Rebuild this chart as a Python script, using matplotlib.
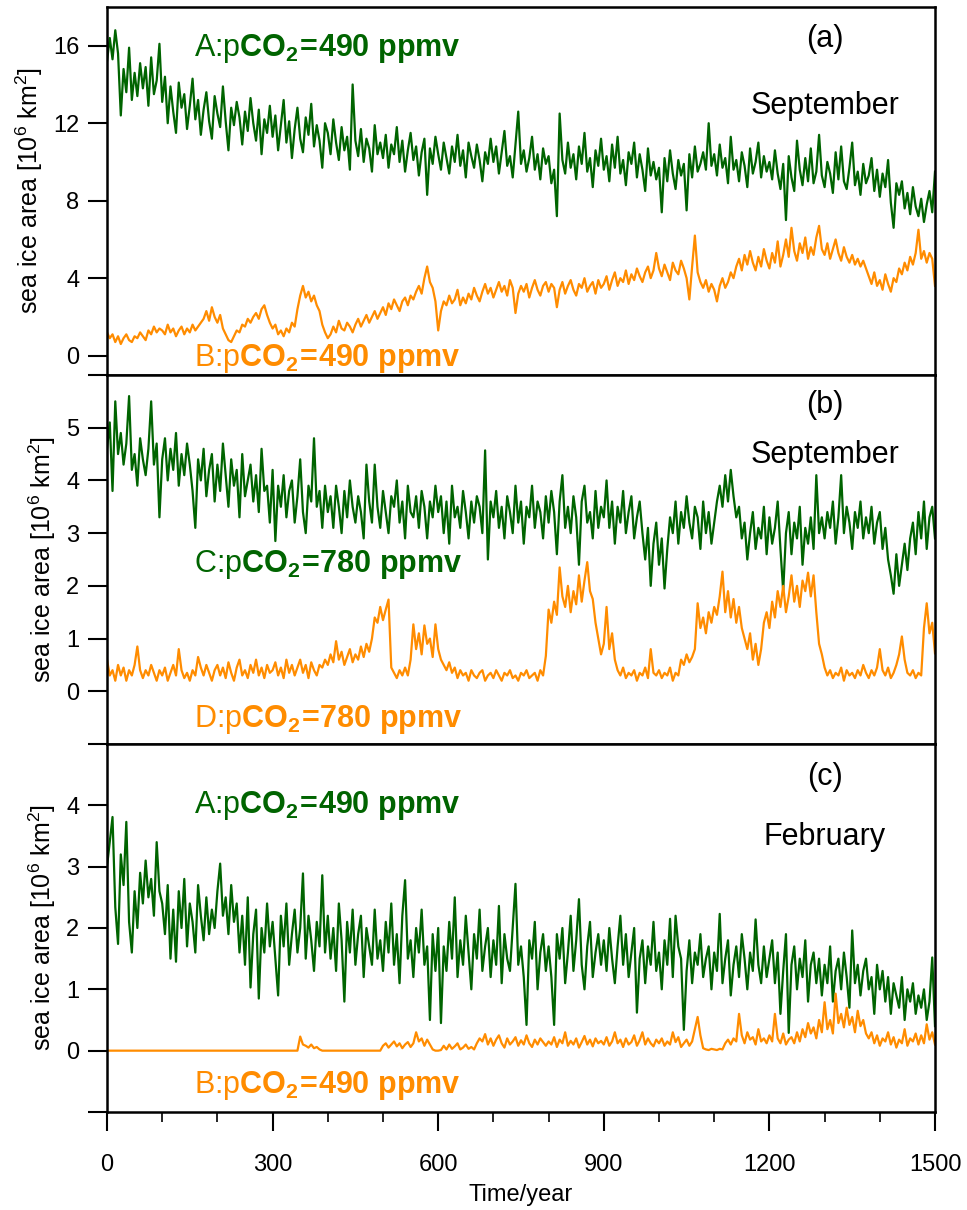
import numpy as np
import matplotlib
matplotlib.use('Agg')
import matplotlib.pyplot as plt
from matplotlib.ticker import MultipleLocator

plt.rcParams['font.family'] = ['Liberation Sans', 'DejaVu Sans']
plt.rcParams['mathtext.fontset'] = 'custom'
plt.rcParams['mathtext.rm'] = 'Liberation Sans'
plt.rcParams['mathtext.it'] = 'Liberation Sans:italic'
plt.rcParams['mathtext.bf'] = 'Liberation Sans:bold'

# model years, one value every 5 years
years = np.arange(0, 1501, 5)

# (a) September, run A and run B
sep_A = [15.2, 16.4, 15.3, 16.8, 15.6, 12.4, 14.8, 13.6, 15.9, 13.2, 14.6, 13.4, 15.1, 13.8, 14.9, 12.9, 15.4, 13.5, 14.2, 16.1,
         13.1, 14.4, 12.0, 13.9, 12.6, 11.5, 14.1, 12.8, 13.5, 11.7, 12.9, 14.3, 12.2, 13.2, 11.4, 12.7, 13.6, 12.1, 11.2, 13.4,
         12.5, 11.8, 13.9, 12.1, 10.6, 12.8, 11.9, 13.1, 12.3, 10.9, 12.6, 11.6, 13.3, 12.0, 11.1, 12.7, 10.4, 12.2, 11.5, 12.9,
         11.3, 12.4, 10.6, 11.9, 13.2, 11.0, 12.1, 10.2, 11.7, 12.8, 11.2, 10.5, 12.3, 11.4, 13.0, 10.8, 11.9, 11.1, 9.7, 12.0,
         11.5, 10.4, 12.2, 11.0, 10.1, 11.8, 10.6, 11.3, 9.6, 14.0, 11.1, 10.3, 11.7, 10.0, 11.2, 10.7, 9.5, 11.9, 10.4, 11.0,
         10.2, 11.4, 9.7, 10.9, 10.4, 11.8, 10.0, 11.1, 9.5, 10.6, 11.5, 10.1, 10.8, 9.3, 10.5, 11.2, 8.3, 10.7, 9.9, 11.3,
         10.4, 9.6, 11.0, 10.2, 9.4, 10.8, 10.0, 11.4, 9.8, 10.6, 9.2, 11.0, 10.3, 9.7, 10.9, 10.1, 9.0, 10.5, 9.9, 11.2,
         10.0, 10.8, 9.4, 10.5, 11.6, 9.8, 10.3, 9.2, 10.9, 12.6, 9.9, 10.6, 9.5, 10.2, 11.3, 9.6, 10.4, 9.1, 10.7, 9.9,
         10.3, 8.9, 9.6, 7.2, 12.5, 10.1, 9.4, 11.0, 9.7, 10.4, 9.1, 10.8, 9.9, 11.5, 9.5, 10.2, 8.7, 10.6, 9.8, 11.2,
         9.6, 10.3, 9.0, 10.9, 9.7, 11.3, 9.4, 10.1, 8.8, 10.5, 9.9, 11.0, 9.2, 10.4, 9.6, 8.5, 10.7, 9.3, 10.0, 9.1,
         9.7, 7.4, 10.2, 9.0, 10.6, 9.4, 8.6, 10.1, 9.3, 9.9, 7.5, 10.4, 9.2, 10.8, 9.5, 9.9, 10.5, 9.6, 12.0, 9.8,
         10.4, 9.3, 10.9, 9.7, 10.2, 8.9, 11.3, 9.6, 10.1, 9.0, 10.5, 9.8, 8.7, 10.7, 9.4, 10.0, 11.0, 9.2, 10.3, 9.5,
         10.0, 9.1, 10.6, 9.4, 8.6, 9.9, 7.0, 10.3, 9.2, 8.5, 11.1, 9.6, 8.8, 10.2, 9.0, 10.7, 8.9, 9.5, 11.4, 9.3,
         8.7, 10.0, 9.4, 8.4, 10.5, 9.1, 10.8, 9.0, 8.6, 9.7, 11.0, 8.8, 9.5, 8.3, 9.9, 8.9, 9.3, 10.2, 8.5, 9.6,
         8.2, 9.4, 8.7, 10.1, 7.9, 6.6, 8.9, 8.3, 9.0, 7.6, 8.4, 7.3, 8.7, 7.7, 7.2, 8.1, 6.9, 7.8, 8.5, 7.4,
         9.5]
sep_B = [1.2, 0.9, 1.1, 0.7, 1.0, 0.6, 0.9, 1.1, 0.8, 0.7, 1.0, 0.9, 1.2, 1.0, 0.8, 1.3, 1.1, 1.5, 1.2, 1.4,
         1.3, 1.1, 1.6, 1.2, 1.4, 1.0, 1.3, 1.5, 1.1, 1.4, 1.2, 1.6, 1.3, 1.5, 1.7, 1.9, 2.3, 1.8, 2.5, 2.0,
         1.7, 2.1, 1.4, 1.1, 0.8, 0.7, 1.0, 1.3, 1.2, 1.6, 1.5, 1.9, 1.7, 2.0, 2.2, 1.9, 2.4, 2.6, 2.1, 1.7,
         1.4, 1.6, 1.1, 1.3, 1.0, 1.4, 1.2, 1.7, 1.5, 2.4, 3.1, 3.6, 3.0, 3.3, 2.8, 3.1, 2.6, 2.3, 1.6, 1.2,
         0.9, 1.1, 1.5, 1.2, 1.8, 1.4, 1.3, 1.7, 1.5, 1.2, 1.6, 1.9, 1.5, 1.8, 2.1, 1.7, 2.0, 2.3, 1.9, 2.2,
         2.5, 2.1, 2.7, 2.4, 2.9, 2.6, 2.3, 2.8, 3.0, 2.6, 3.1, 2.9, 3.3, 3.6, 3.2, 4.0, 4.6, 3.8, 3.5, 2.8,
         1.3, 2.3, 2.8, 2.6, 3.1, 2.7, 2.9, 3.4, 2.6, 3.0, 2.7, 3.2, 2.9, 3.5, 3.1, 2.8, 3.3, 3.7, 3.2, 3.5,
         3.0, 3.4, 3.8, 3.3, 3.6, 3.1, 3.9, 3.5, 2.2, 3.2, 3.6, 3.3, 3.7, 3.0, 3.5, 3.9, 3.4, 3.1, 3.6, 3.8,
         3.3, 3.7, 3.5, 2.5, 3.4, 3.8, 3.2, 3.6, 3.9, 3.4, 3.1, 3.7, 3.5, 4.0, 3.3, 3.6, 3.8, 3.2, 3.9, 3.5,
         3.7, 4.1, 3.4, 3.9, 4.3, 3.6, 4.0, 3.8, 4.4, 3.7, 4.2, 3.9, 4.5, 4.1, 3.8, 4.3, 4.6, 4.0, 4.4, 5.3,
         4.5, 4.1, 4.7, 4.3, 3.9, 4.8, 4.4, 4.2, 4.9, 4.5, 4.0, 2.9, 4.6, 6.2, 4.3, 3.8, 3.5, 3.9, 3.3, 3.7,
         3.4, 2.8, 3.6, 4.0, 3.5, 3.8, 4.3, 4.0, 4.6, 5.0, 4.4, 5.2, 4.7, 5.4, 4.8, 4.4, 5.1, 4.6, 5.5, 4.9,
         4.5, 5.3, 4.8, 5.9, 4.6, 5.2, 6.0, 5.1, 6.6, 5.4, 4.9, 5.8, 5.3, 6.1, 5.0, 5.6, 5.2, 6.1, 6.7, 5.5,
         5.2, 5.8, 5.0, 5.5, 6.0, 5.3, 4.9, 5.6, 5.1, 4.8, 5.2, 4.7, 5.0, 4.6, 4.9, 4.5, 4.1, 3.7, 4.3, 3.6,
         3.9, 3.4, 4.2, 3.7, 3.3, 4.0, 3.8, 4.5, 4.2, 4.8, 4.4, 5.1, 4.7, 5.3, 6.5, 5.0, 5.4, 4.8, 5.3, 5.0,
         3.6]

# (b) September, run C and run D
sep_C = [4.6, 5.1, 3.8, 5.5, 4.5, 4.9, 4.3, 4.7, 5.6, 4.2, 4.5, 3.9, 4.8, 4.4, 4.1, 4.6, 5.5, 4.3, 4.7, 3.3,
         4.4, 4.8, 4.0, 4.6, 4.2, 4.9, 3.9, 4.5, 4.1, 4.7, 4.3, 3.8, 3.1, 4.4, 4.0, 4.6, 3.7, 4.2, 4.5, 3.6,
         4.3, 3.8, 4.7, 4.1, 3.5, 4.4, 3.9, 4.2, 3.3, 4.5, 3.7, 4.0, 4.3, 3.6, 4.1, 3.4, 4.6, 3.8, 3.9, 3.2,
         4.2, 2.85, 3.9, 3.5, 4.1, 3.3, 3.8, 4.0, 3.2, 3.7, 4.4, 3.4, 3.0, 3.9, 3.6, 4.8, 3.5, 3.8, 3.1, 3.9,
         3.4, 3.7, 3.1, 3.9, 3.5, 3.0, 3.8, 3.3, 4.0, 3.5, 3.2, 3.7, 3.4, 2.9, 4.3, 3.6, 3.2, 4.3, 3.5, 3.1,
         3.8, 3.4, 3.0, 3.7, 3.5, 4.0, 3.2, 3.6, 2.9, 3.9, 3.4, 3.3, 3.7, 3.1, 3.8, 3.5, 2.9, 3.6, 3.3, 3.9,
         3.4, 3.7, 3.0, 3.6, 2.8, 3.9, 3.3, 3.5, 3.1, 3.8, 3.4, 2.9, 3.6, 3.2, 3.7, 3.5, 3.0, 4.57, 2.5, 3.6,
         3.3, 3.8, 3.1, 3.5, 2.9, 3.7, 3.4, 3.0, 3.9, 3.2, 3.6, 2.8, 3.5, 3.3, 3.9, 3.1, 3.6, 3.4, 2.9, 3.7,
         3.2, 3.8, 3.4, 2.6, 3.6, 4.1, 3.1, 3.5, 3.0, 3.7, 3.3, 2.4, 3.6, 3.9, 3.2, 3.4, 2.9, 3.8, 3.1, 3.5,
         3.3, 4.0, 3.1, 3.6, 2.8, 3.5, 3.2, 3.8, 3.0, 3.4, 3.7, 2.9, 3.3, 3.6, 3.0, 2.5, 3.1, 2.0, 2.8, 3.2,
         2.4, 2.9, 1.95, 2.7, 3.3, 3.0, 3.6, 2.8, 3.4, 3.1, 3.7, 3.2, 2.9, 3.5, 3.3, 2.7, 3.6, 3.0, 3.4, 2.8,
         3.2, 3.6, 3.9, 3.5, 4.1, 3.6, 4.2, 3.7, 3.3, 3.5, 2.9, 3.2, 2.5, 3.0, 3.4, 2.7, 3.1, 2.9, 3.5, 2.6,
         3.3, 2.8, 3.1, 3.6, 2.7, 1.9, 3.0, 3.4, 2.6, 3.2, 2.9, 3.5, 2.4, 3.1, 2.8, 3.3, 2.7, 4.1, 3.0, 3.3,
         2.9, 3.4, 3.1, 3.6, 2.8, 3.3, 4.1, 3.0, 3.5, 3.2, 2.7, 3.4, 3.1, 3.6, 2.9, 3.3, 3.0, 3.5, 2.8, 3.2,
         3.4, 2.7, 3.1, 2.5, 2.2, 1.85, 2.6, 2.0, 2.4, 2.8, 2.3, 2.9, 3.2, 2.6, 3.4, 2.9, 3.6, 2.7, 3.3, 3.5,
         2.9]
sep_D = [0.6, 0.3, 0.4, 0.2, 0.5, 0.3, 0.45, 0.2, 0.4, 0.3, 0.5, 0.85, 0.4, 0.25, 0.4, 0.3, 0.5, 0.35, 0.2, 0.4,
         0.3, 0.45, 0.2, 0.35, 0.5, 0.3, 0.8, 0.4, 0.25, 0.35, 0.2, 0.4, 0.3, 0.65, 0.45, 0.3, 0.5, 0.35, 0.2, 0.4,
         0.5, 0.3, 0.45, 0.25, 0.55, 0.35, 0.2, 0.45, 0.6, 0.3, 0.4, 0.25, 0.5, 0.35, 0.6, 0.3, 0.45, 0.25, 0.5, 0.35,
         0.4, 0.55, 0.3, 0.45, 0.25, 0.6, 0.35, 0.5, 0.3, 0.45, 0.6, 0.35, 0.5, 0.25, 0.55, 0.4, 0.3, 0.5, 0.45, 0.6,
         0.5, 0.7, 0.55, 0.95, 0.6, 0.75, 0.5, 0.65, 0.8, 0.55, 0.7, 0.6, 0.85, 0.65, 0.9, 0.75, 1.0, 1.4, 1.3, 1.6,
         1.35, 1.55, 1.74, 0.45, 0.35, 0.25, 0.4, 0.3, 0.45, 0.3, 0.6, 1.27, 0.8, 1.1, 0.7, 1.25, 0.9, 1.0, 0.65, 1.27,
         0.8, 0.6, 0.5, 0.4, 0.55, 0.35, 0.45, 0.25, 0.4, 0.3, 0.35, 0.2, 0.4, 0.3, 0.25, 0.35, 0.4, 0.2, 0.3, 0.35,
         0.25, 0.4, 0.3, 0.2, 0.35, 0.3, 0.4, 0.25, 0.3, 0.2, 0.35, 0.3, 0.4, 0.25, 0.3, 0.35, 0.2, 0.4, 0.3, 0.67,
         1.55, 1.3, 1.7, 1.45, 2.35, 1.8, 1.6, 2.0, 1.5, 1.9, 1.65, 2.2, 1.7, 2.1, 2.45, 1.9, 1.75, 1.3, 1.0, 0.7,
         0.9, 1.6, 0.8, 1.1, 0.6, 0.4, 0.3, 0.45, 0.25, 0.35, 0.3, 0.4, 0.2, 0.35, 0.3, 0.45, 0.25, 0.8, 0.35, 0.3,
         0.4, 0.25, 0.35, 0.3, 0.45, 0.2, 0.35, 0.3, 0.6, 0.5, 0.7, 0.55, 0.65, 0.8, 1.67, 1.2, 1.4, 1.1, 1.5, 1.3,
         1.6, 1.45, 1.8, 2.27, 1.5, 1.9, 1.4, 1.75, 1.3, 1.6, 1.2, 1.0, 0.8, 1.1, 0.6, 0.9, 0.5, 0.8, 1.3, 1.5,
         1.2, 1.7, 1.4, 1.9, 1.6, 2.0, 1.5, 1.8, 2.2, 1.7, 2.0, 1.6, 2.1, 1.9, 2.25, 1.8, 2.2, 1.5, 0.9, 0.7,
         0.45, 0.3, 0.4, 0.25, 0.35, 0.3, 0.45, 0.2, 0.4, 0.3, 0.35, 0.25, 0.4, 0.3, 0.5, 0.35, 0.25, 0.4, 0.3, 0.45,
         0.8, 0.4, 0.3, 0.45, 0.25, 0.35, 0.5, 0.7, 1.04, 0.6, 0.35, 0.3, 0.4, 0.25, 0.35, 0.3, 1.2, 1.67, 1.1, 1.3,
         0.72]

# (c) February, run A and run B
feb_A = [3.0, 3.4, 3.81, 2.34, 1.74, 3.2, 2.7, 3.73, 2.1, 1.6, 2.6, 2.0, 2.9, 2.4, 3.1, 2.5, 2.8, 2.2, 3.4, 2.6,
         2.4, 1.9, 2.7, 1.5, 2.3, 1.45, 2.6, 2.0, 2.8, 1.7, 2.4, 2.1, 1.6, 2.7, 2.2, 1.8, 2.5, 1.9, 2.3, 2.0,
         2.6, 3.05, 2.2, 2.5, 1.9, 2.7, 2.1, 2.4, 1.6, 2.2, 1.4, 2.5, 1.03, 1.9, 2.3, 0.85, 2.0, 1.6, 2.4, 1.7,
         2.1, 1.5, 0.9, 2.2, 1.7, 2.4, 1.4, 1.9, 2.3, 1.6, 2.0, 2.89, 1.5, 2.2, 1.8, 1.3, 2.1, 1.7, 2.86, 1.6,
         2.2, 1.5, 2.0, 1.3, 2.4, 1.8, 0.8, 2.1, 1.6, 2.3, 1.4, 1.9, 2.2, 1.2, 2.0, 1.7, 1.4, 2.3, 1.5, 1.8,
         1.3, 2.1, 1.6, 2.4, 1.4, 1.9, 1.1, 2.2, 2.78, 1.5, 1.8, 1.2, 2.0, 1.6, 2.3, 1.4, 1.7, 0.5, 1.9, 1.3,
         2.0, 0.45, 1.7, 1.3, 2.1, 1.5, 2.5, 1.2, 1.8, 1.4, 2.2, 1.6, 1.0, 1.9, 1.5, 2.3, 1.3, 1.7, 2.0, 1.2,
         1.8, 1.4, 2.36, 1.1, 1.9, 1.5, 1.3, 2.0, 2.72, 1.4, 1.7, 1.2, 0.42, 1.8, 1.5, 2.1, 1.0, 1.6, 1.9, 1.3,
         1.7, 1.2, 0.42, 1.9, 1.5, 2.0, 1.1, 1.6, 2.2, 1.3, 1.8, 2.47, 1.4, 1.0, 1.7, 2.1, 1.2, 1.6, 1.9, 1.4,
         1.8, 1.3, 2.0, 1.5, 1.1, 1.7, 2.2, 1.4, 1.9, 1.2, 1.6, 2.0, 0.62, 1.5, 1.8, 1.1, 1.7, 1.4, 2.1, 1.3,
         1.6, 1.0, 1.8, 1.4, 2.15, 1.2, 2.2, 1.7, 1.5, 0.34, 1.3, 1.8, 1.1, 1.6, 1.4, 1.9, 1.2, 1.5, 1.7, 1.0,
         1.6, 1.3, 2.23, 1.1, 1.5, 1.8, 0.9, 1.4, 1.7, 1.2, 1.9, 1.5, 1.0, 1.6, 1.3, 2.14, 1.4, 1.1, 1.7, 1.2,
         1.5, 1.8, 1.1, 1.6, 0.6, 1.3, 1.9, 0.29, 1.4, 1.7, 1.0, 1.5, 1.2, 1.8, 0.8, 1.4, 1.6, 1.1, 1.5, 0.9,
         1.4, 1.1, 1.7, 0.8, 1.3, 1.5, 1.0, 1.6, 1.2, 0.7, 1.96, 1.1, 1.4, 0.9, 1.3, 1.5, 1.0, 1.2, 0.6, 1.4,
         1.0, 1.3, 0.8, 1.2, 0.6, 1.1, 0.9, 0.7, 1.2, 0.5, 1.0, 0.8, 1.1, 0.6, 0.9, 0.7, 1.0, 0.5, 0.8, 1.52,
         0.4]
feb_B = [0.0, 0.0, 0.0, 0.0, 0.0, 0.0, 0.0, 0.0, 0.0, 0.0, 0.0, 0.0, 0.0, 0.0, 0.0, 0.0, 0.0, 0.0, 0.0, 0.0,
         0.0, 0.0, 0.0, 0.0, 0.0, 0.0, 0.0, 0.0, 0.0, 0.0, 0.0, 0.0, 0.0, 0.0, 0.0, 0.0, 0.0, 0.0, 0.0, 0.0,
         0.0, 0.0, 0.0, 0.0, 0.0, 0.0, 0.0, 0.0, 0.0, 0.0, 0.0, 0.0, 0.0, 0.0, 0.0, 0.0, 0.0, 0.0, 0.0, 0.0,
         0.0, 0.0, 0.0, 0.0, 0.0, 0.0, 0.0, 0.0, 0.0, 0.0, 0.23, 0.1, 0.08, 0.05, 0.1, 0.04, 0.06, 0.02, 0.0, 0.0,
         0.0, 0.0, 0.0, 0.0, 0.0, 0.0, 0.0, 0.0, 0.0, 0.0, 0.0, 0.0, 0.0, 0.0, 0.0, 0.0, 0.0, 0.0, 0.0, 0.0,
         0.08, 0.12, 0.05, 0.1, 0.15, 0.07, 0.12, 0.04, 0.1, 0.14, 0.06, 0.12, 0.3, 0.15, 0.2, 0.08, 0.18, 0.1, 0.02, 0.0,
         0.0, 0.01, 0.08, 0.02, 0.1, 0.03, 0.07, 0.12, 0.02, 0.05, 0.1, 0.03, 0.06, 0.02, 0.12, 0.2, 0.15, 0.27, 0.1, 0.2,
         0.08, 0.18, 0.25, 0.12, 0.05, 0.2, 0.1, 0.15, 0.22, 0.08, 0.17, 0.1, 0.25, 0.12, 0.06, 0.18, 0.1, 0.2, 0.14, 0.08,
         0.15, 0.1, 0.22, 0.06, 0.18, 0.12, 0.3, 0.08, 0.16, 0.1, 0.2, 0.05, 0.14, 0.24, 0.1, 0.18, 0.07, 0.2, 0.12, 0.16,
         0.1, 0.22, 0.08, 0.15, 0.3, 0.12, 0.18, 0.06, 0.2, 0.1, 0.14, 0.25, 0.08, 0.17, 0.3, 0.1, 0.2, 0.12, 0.07, 0.18,
         0.12, 0.2, 0.08, 0.15, 0.1, 0.3, 0.14, 0.22, 0.06, 0.12, 0.18, 0.08, 0.15, 0.35, 0.55, 0.25, 0.04, 0.02, 0.01, 0.03,
         0.02, 0.01, 0.03, 0.02, 0.12, 0.18, 0.1, 0.2, 0.15, 0.6, 0.25, 0.12, 0.3, 0.18, 0.22, 0.1, 0.35, 0.15, 0.2, 0.12,
         0.25, 0.15, 0.6, 0.2, 0.12, 0.28, 0.1, 0.18, 0.22, 0.12, 0.3, 0.15, 0.35, 0.22, 0.45, 0.28, 0.38, 0.2, 0.5, 0.3,
         0.79, 0.35, 0.5, 0.28, 0.93, 0.45, 0.6, 0.38, 0.7, 0.42, 0.55, 0.3, 0.65, 0.4, 0.5, 0.28, 0.2, 0.3, 0.12, 0.25,
         0.08, 0.2, 0.15, 0.3, 0.1, 0.22, 0.05, 0.18, 0.12, 0.35, 0.08, 0.2, 0.15, 0.28, 0.1, 0.25, 0.12, 0.43, 0.18, 0.3,
         0.1]

green = '#006400'
orange = '#ff8c00'

label_490 = r'p$\mathbf{CO_2\!=\!490\ ppmv}$'
label_780 = r'p$\mathbf{CO_2\!=\!780\ ppmv}$'

panels = [
    dict(series=(sep_A, sep_B), ylim=(-1, 18), yticks=[0, 4, 8, 12, 16], tag='(a)', month='September',
         tag_y=16.35, month_y=12.9,
         top_text='A:' + label_490, top_y=15.85, low_text='B:' + label_490, low_y=-0.15),
    dict(series=(sep_C, sep_D), ylim=(-1, 6), yticks=[0, 1, 2, 3, 4, 5], tag='(b)', month='September',
         tag_y=5.43, month_y=4.48,
         top_text='C:' + label_780, top_y=2.4, low_text='D:' + label_780, low_y=-0.53),
    dict(series=(feb_A, feb_B), ylim=(-1, 5), yticks=[0, 1, 2, 3, 4], tag='(c)', month='February',
         tag_y=4.47, month_y=3.48,
         top_text='A:' + label_490, top_y=3.99, low_text='B:' + label_490, low_y=-0.57),
]

fig = plt.figure(figsize=(9.67, 12.1), dpi=100)
left, width = 107 / 967, 828 / 967
bounds = [(7, 375), (375, 744), (744, 1112)]

axes = []
for p, (top_px, bot_px) in zip(panels, bounds):
    ax = fig.add_axes([left, 1 - bot_px / 1210, width, (bot_px - top_px) / 1210])
    up, low = p['series']
    ax.plot(years, up, color=green, lw=1.6)
    ax.plot(years, low, color=orange, lw=1.6)
    ax.set_xlim(0, 1500)
    ax.set_ylim(*p['ylim'])
    # extra unlabelled tick at the bottom edge
    ax.set_yticks([p['ylim'][0]] + p['yticks'])
    ax.set_yticklabels([''] + [str(t) for t in p['yticks']])
    ax.tick_params(axis='y', direction='out', length=14, width=1.5, pad=6, labelsize=17)
    for s in ax.spines.values():
        s.set_linewidth(1.8)
    ax.set_ylabel(r'sea ice area [10$^{\mathrm{6}}$ km$^{\mathrm{2}}$]', fontsize=18, labelpad=6)

    ax.text(1301, p['tag_y'], p['tag'], ha='center', va='center', fontsize=22)
    ax.text(1300, p['month_y'], p['month'], ha='center', va='center', fontsize=22)
    ax.text(157, p['top_y'], p['top_text'], color=green, ha='left', va='center', fontsize=22)
    ax.text(157, p['low_y'], p['low_text'], color=orange, ha='left', va='center', fontsize=22)
    axes.append(ax)

for ax in axes[:2]:
    ax.tick_params(axis='x', which='both', bottom=False, labelbottom=False)

ax = axes[2]
ax.xaxis.set_major_locator(MultipleLocator(300))
ax.xaxis.set_minor_locator(MultipleLocator(100))
ax.tick_params(axis='x', which='major', direction='out', length=14, width=1.5, pad=16, labelsize=17)
ax.tick_params(axis='x', which='minor', direction='out', length=7, width=1.2)
ax.set_xlabel('Time/year', fontsize=17, labelpad=6)

fig.savefig('out.png', dpi=100)
